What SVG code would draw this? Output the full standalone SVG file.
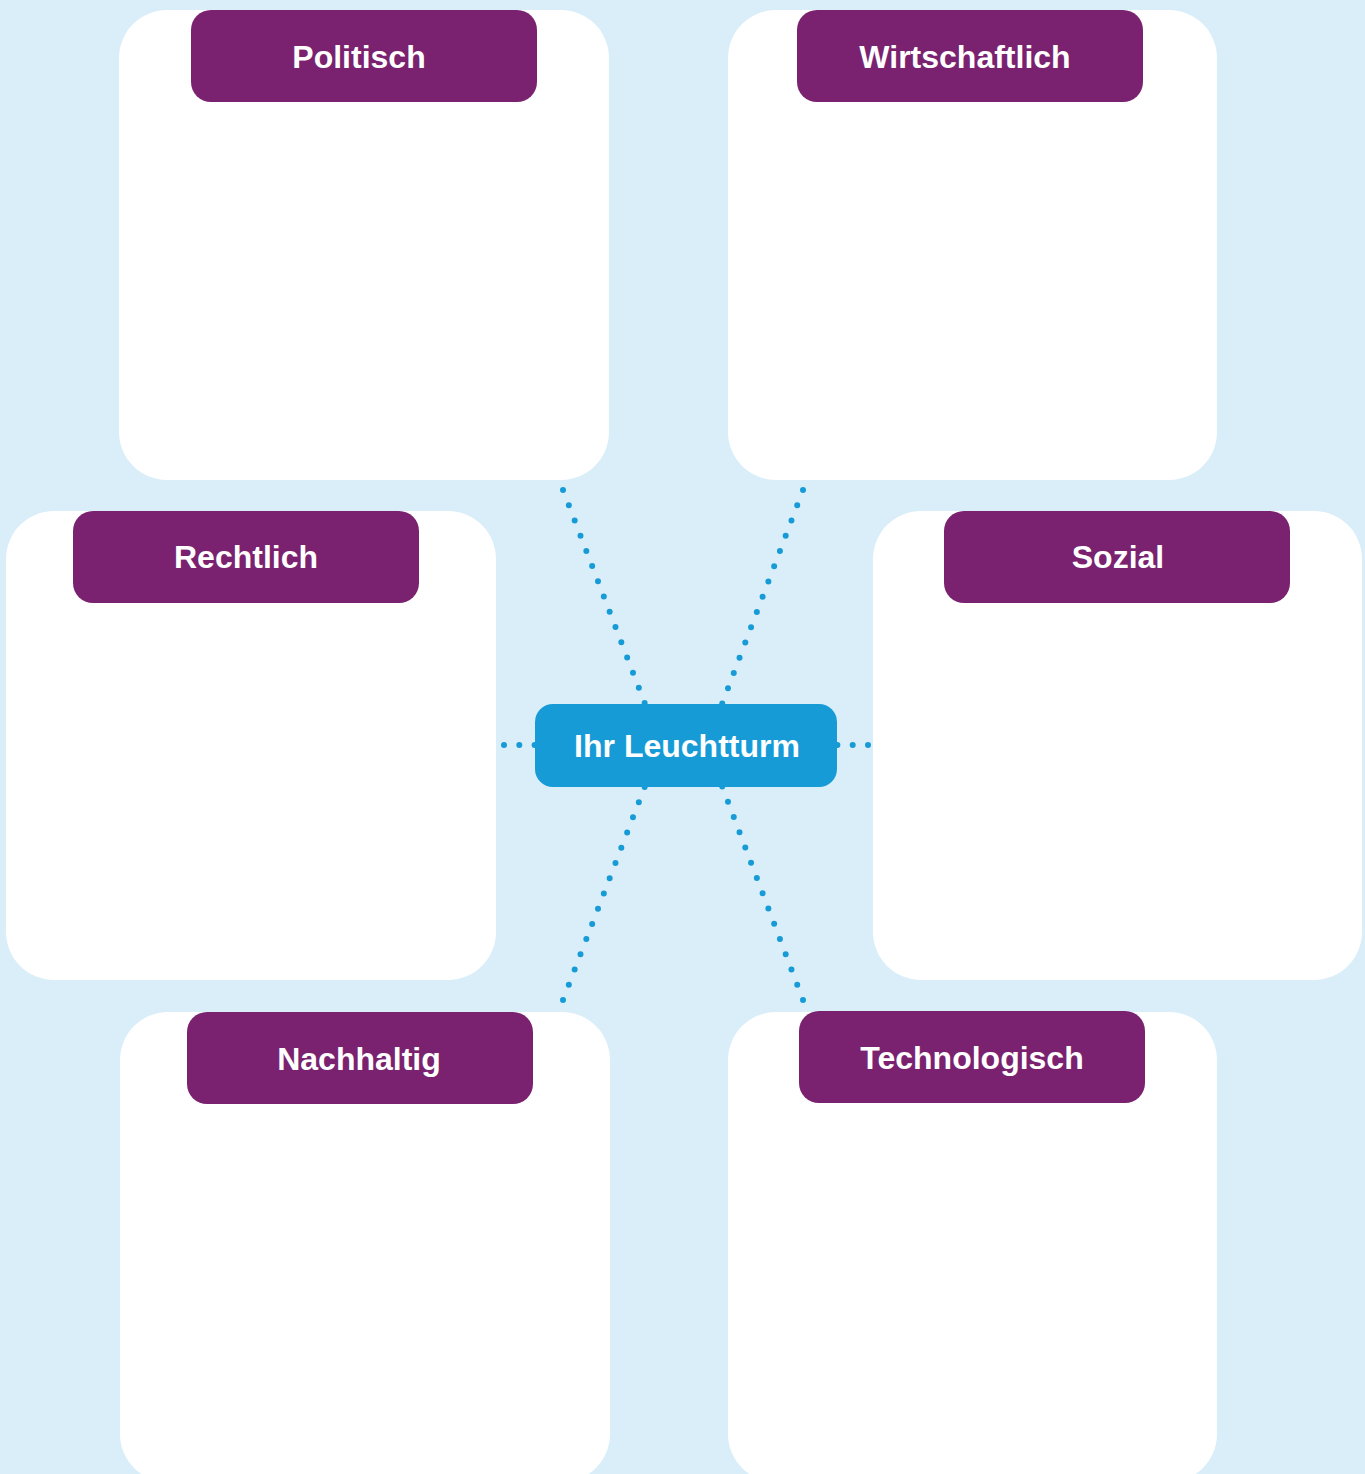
<svg xmlns="http://www.w3.org/2000/svg" width="1365" height="1474" viewBox="0 0 1365 1474">
  <style>
    .card { fill: #ffffff; }
    .tag { fill: #7a2270; }
    .hub { fill: #169bd7; }
    .label { font-family: "Liberation Sans", Arial, sans-serif; font-weight: bold; font-size: 32px; fill: #ffffff; text-anchor: middle; }
    .dots { fill: none; stroke: #169bd7; stroke-width: 6; stroke-linecap: round; stroke-dasharray: 0 16.3; }
    .dots-h { fill: none; stroke: #169bd7; stroke-width: 6; stroke-linecap: round; stroke-dasharray: 0 15.3; }
  </style>
  <rect width="1365" height="1474" fill="#d9eef9"/>

  <g id="connectors">
    <line class="dots" x1="563" y1="490" x2="645" y2="704"/>
    <line class="dots" x1="803" y1="490" x2="722" y2="704"/>
    <line class="dots" x1="563" y1="1000" x2="645" y2="786"/>
    <line class="dots" x1="803" y1="1000" x2="722" y2="786"/>
    <line class="dots-h" x1="504" y1="745" x2="535" y2="745"/>
    <line class="dots-h" x1="868" y1="745" x2="837" y2="745"/>
  </g>

  <g id="politisch">
    <rect class="card" x="119" y="10" width="490" height="470" rx="48"/>
    <rect class="tag" x="191" y="10" width="346" height="92" rx="20"/>
    <text class="label" x="359" y="68">Politisch</text>
  </g>

  <g id="wirtschaftlich">
    <rect class="card" x="728" y="10" width="489" height="470" rx="48"/>
    <rect class="tag" x="797" y="10" width="346" height="92" rx="20"/>
    <text class="label" x="965" y="68">Wirtschaftlich</text>
  </g>

  <g id="rechtlich">
    <rect class="card" x="6" y="511" width="490" height="469" rx="48"/>
    <rect class="tag" x="73" y="511" width="346" height="92" rx="20"/>
    <text class="label" x="246" y="568">Rechtlich</text>
  </g>

  <g id="sozial">
    <rect class="card" x="873" y="511" width="489" height="469" rx="48"/>
    <rect class="tag" x="944" y="511" width="346" height="92" rx="20"/>
    <text class="label" x="1118" y="568">Sozial</text>
  </g>

  <g id="nachhaltig">
    <rect class="card" x="120" y="1012" width="490" height="470" rx="48"/>
    <rect class="tag" x="187" y="1012" width="346" height="92" rx="20"/>
    <text class="label" x="359" y="1070">Nachhaltig</text>
  </g>

  <g id="technologisch">
    <rect class="card" x="728" y="1012" width="489" height="470" rx="48"/>
    <rect class="tag" x="799" y="1011" width="346" height="92" rx="20"/>
    <text class="label" x="972" y="1069">Technologisch</text>
  </g>

  <g id="leuchtturm">
    <rect class="hub" x="535" y="704" width="302" height="83" rx="18"/>
    <text class="label" x="687" y="757">Ihr Leuchtturm</text>
  </g>
</svg>
